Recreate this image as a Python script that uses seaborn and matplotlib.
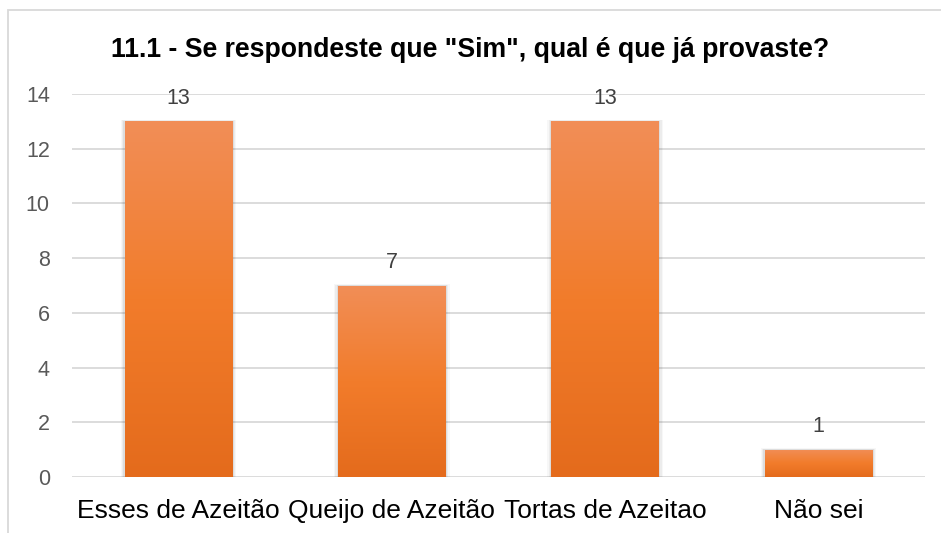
import numpy as np
import matplotlib
matplotlib.use("Agg")
import matplotlib.pyplot as plt
import seaborn as sns
from matplotlib.colors import LinearSegmentedColormap
from matplotlib.patches import Rectangle

# Chart data
categories = ["Esses de Azeitão", "Queijo de Azeitão", "Tortas de Azeitao", "Não sei"]
counts = [13, 7, 13, 1]
y_ticks = [0, 2, 4, 6, 8, 10, 12, 14]
title = '11.1 - Se respondeste que "Sim", qual é que já provaste?'

sns.set_theme(style="white")
plt.rcParams['font.family'] = ['Liberation Sans', 'DejaVu Sans']

fig = plt.figure(figsize=(9.41, 5.33), dpi=100)
ax = fig.add_axes([72 / 941, 1 - 477 / 533, 853 / 941, 383 / 533])

sns.barplot(x=categories, y=counts, ax=ax, width=0.505, color="#F07E2E",
            edgecolor="none", zorder=3)

ax.set_xlim(-0.5, 3.5)
ax.set_ylim(0, 14)
ax.set_yticks(y_ticks)
ax.yaxis.grid(True, color="#D9D9D9", linewidth=1.3, zorder=0)
ax.set_axisbelow(True)
for s in ax.spines.values():
    s.set_visible(False)
ax.tick_params(axis="y", length=0, labelsize=15.5, labelcolor="#595959", pad=16)
ax.tick_params(axis="x", length=0, labelsize=19, labelcolor="#000000", pad=16)
ax.set_xlabel("")
ax.set_ylabel("")

# gradient fill + soft shadow for each bar
cmap = LinearSegmentedColormap.from_list(
    "excel_orange", [(0, "#E46B1C"), (0.5, "#F27C2B"), (1, "#F18E57")])
grad = np.linspace(0, 1, 256).reshape(-1, 1)
for bar in ax.patches:
    x0, y0 = bar.get_x(), bar.get_y()
    w, h = bar.get_width(), bar.get_height()
    for i, a in enumerate([0.06, 0.045, 0.03]):
        d = 0.006 * (i + 1)
        ax.add_patch(Rectangle((x0 - d, y0), w + 2 * d, h + d * 3,
                               facecolor="#000000", alpha=a, edgecolor="none", zorder=2))
    im = ax.imshow(grad, cmap=cmap, origin="lower", aspect="auto",
                   extent=(x0, x0 + w, y0, y0 + h), zorder=4)
    im.set_clip_path(bar)
    ax.text(x0 + w / 2, h + 0.45, f"{int(h)}", ha="center", va="bottom",
            fontsize=15.5, color="#404040", zorder=5)
ax.set_xlim(-0.5, 3.5)
ax.set_ylim(0, 14)

fig.text(0.5, 1 - 50 / 533, title, ha="center", va="center",
         fontsize=19.2, fontweight="bold", color="#000000")

# chart area border (only left/top visible in the crop)
fig.patches.append(Rectangle((8 / 941, -0.1), 1.1, 1 - 10 / 533 + 0.1,
                             transform=fig.transFigure, fill=False,
                             edgecolor="#D9D9D9", linewidth=1.3))

fig.savefig("out.png", dpi=100)
